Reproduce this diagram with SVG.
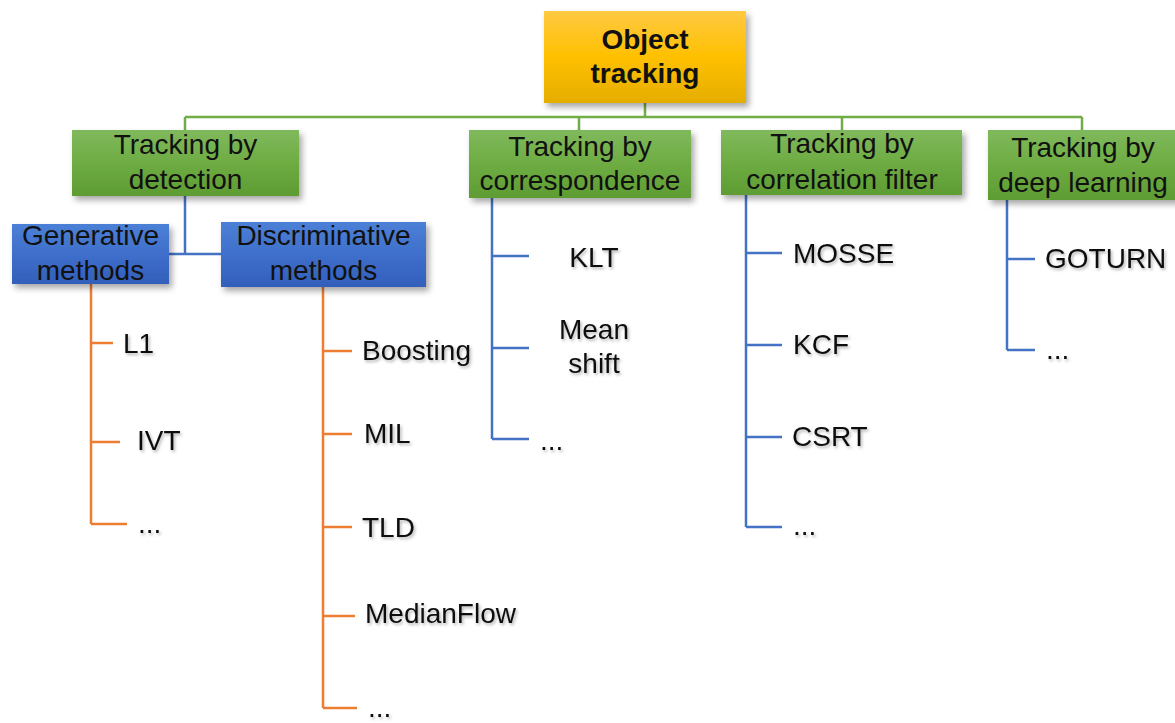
<svg xmlns="http://www.w3.org/2000/svg" width="1175" height="723" viewBox="0 0 1175 723">
<defs>
<linearGradient id="gy" x1="0" y1="0" x2="0" y2="1"><stop offset="0" stop-color="#ffc943"/><stop offset="0.5" stop-color="#ffc000"/><stop offset="1" stop-color="#e5ad00"/></linearGradient>
<linearGradient id="gg" x1="0" y1="0" x2="0" y2="1"><stop offset="0" stop-color="#80b95c"/><stop offset="0.5" stop-color="#6eac43"/><stop offset="1" stop-color="#5e9c33"/></linearGradient>
<linearGradient id="gb" x1="0" y1="0" x2="0" y2="1"><stop offset="0" stop-color="#4c80d6"/><stop offset="0.5" stop-color="#3f6fcb"/><stop offset="1" stop-color="#325fba"/></linearGradient>
<filter id="sh" x="-10%" y="-10%" width="130%" height="140%"><feDropShadow dx="3" dy="4" stdDeviation="3" flood-color="#000" flood-opacity="0.35"/></filter>
<filter id="ts" x="-10%" y="-20%" width="130%" height="160%"><feDropShadow dx="1.5" dy="2" stdDeviation="1.8" flood-color="#000" flood-opacity="0.3"/></filter>
</defs>
<style>
text{font-family:"Liberation Sans",Arial,sans-serif;font-size:28px;fill:#111}
.b{font-weight:bold}
.c{text-anchor:middle}
.leaf{filter:url(#ts)}
.lg{stroke:#70ad47;stroke-width:2.5;fill:none}
.lb{stroke:#4472c4;stroke-width:2.5;fill:none}
.lo{stroke:#ed7d31;stroke-width:2.5;fill:none}
</style>
<rect width="1175" height="723" fill="#fff"/>
<g id="connectors">
<path class="lg" d="M645 103V117M185 117H1082M185 117V130M579 117V130M842 117V130M1082 117V130"/>
<path class="lb" d="M185 196V254M169 254H221"/>
<path class="lo" d="M91 284V524M91 343H113M91 442H120M91 524H127"/>
<path class="lo" d="M323 287V708M323 351H352M323 434H352M323 527H352M323 616H355M323 708H357"/>
<path class="lb" d="M492 198V439M492 256H529M492 348H529M492 439H529"/>
<path class="lb" d="M746 195V527M746 253H782M746 345H782M746 437H782M746 527H782"/>
<path class="lb" d="M1007 200V350M1007 259H1035M1007 350H1035"/>
</g>
<g id="object-tracking">
<rect x="544" y="11" width="202" height="92" fill="url(#gy)" filter="url(#sh)"/>
<text class="b c" x="645" y="49">Object</text>
<text class="b c" x="645" y="83">tracking</text>
</g>
<g id="tracking-detection">
<rect x="72" y="130" width="227" height="66" fill="url(#gg)" filter="url(#sh)"/>
<text class="c" x="185.5" y="154">Tracking by</text>
<text class="c" x="185.5" y="189">detection</text>
</g>
<g id="tracking-correspondence">
<rect x="469" y="130" width="222" height="68" fill="url(#gg)" filter="url(#sh)"/>
<text class="c" x="580" y="156">Tracking by</text>
<text class="c" x="580" y="190">correspondence</text>
</g>
<g id="tracking-correlation">
<rect x="721" y="130" width="241" height="65" fill="url(#gg)" filter="url(#sh)"/>
<text class="c" x="842" y="153">Tracking by</text>
<text class="c" x="842" y="189">correlation filter</text>
</g>
<g id="tracking-deep">
<rect x="988" y="130" width="195" height="70" fill="url(#gg)" filter="url(#sh)"/>
<text class="c" x="1083" y="157">Tracking by</text>
<text class="c" x="1083" y="192">deep learning</text>
</g>
<g id="generative">
<rect x="12" y="224" width="157" height="60" fill="url(#gb)" filter="url(#sh)"/>
<text class="c" x="90.5" y="245">Generative</text>
<text class="c" x="90.5" y="280">methods</text>
</g>
<g id="discriminative">
<rect x="221" y="222" width="205" height="65" fill="url(#gb)" filter="url(#sh)"/>
<text class="c" x="323.5" y="245">Discriminative</text>
<text class="c" x="323.5" y="280">methods</text>
</g>
<g id="leaf-l1"><text class="leaf" x="123" y="353">L1</text></g>
<g id="leaf-ivt"><text class="leaf" x="137" y="450">IVT</text></g>
<g id="leaf-gen-more"><text class="leaf" x="138" y="533">...</text></g>
<g id="leaf-boosting"><text class="leaf" x="362" y="360">Boosting</text></g>
<g id="leaf-mil"><text class="leaf" x="364" y="443">MIL</text></g>
<g id="leaf-tld"><text class="leaf" x="362" y="537">TLD</text></g>
<g id="leaf-medianflow"><text class="leaf" x="365" y="623">MedianFlow</text></g>
<g id="leaf-disc-more"><text class="leaf" x="368" y="717">...</text></g>
<g id="leaf-klt"><text class="leaf c" x="594" y="267">KLT</text></g>
<g id="leaf-meanshift"><text class="leaf c" x="594" y="339">Mean</text><text class="leaf c" x="594" y="373">shift</text></g>
<g id="leaf-corr-more"><text class="leaf" x="540" y="450">...</text></g>
<g id="leaf-mosse"><text class="leaf" x="793" y="263">MOSSE</text></g>
<g id="leaf-kcf"><text class="leaf" x="793" y="354">KCF</text></g>
<g id="leaf-csrt"><text class="leaf" x="792" y="446">CSRT</text></g>
<g id="leaf-cf-more"><text class="leaf" x="793" y="535">...</text></g>
<g id="leaf-goturn"><text class="leaf" x="1045" y="268">GOTURN</text></g>
<g id="leaf-dl-more"><text class="leaf" x="1046" y="359">...</text></g>
</svg>
